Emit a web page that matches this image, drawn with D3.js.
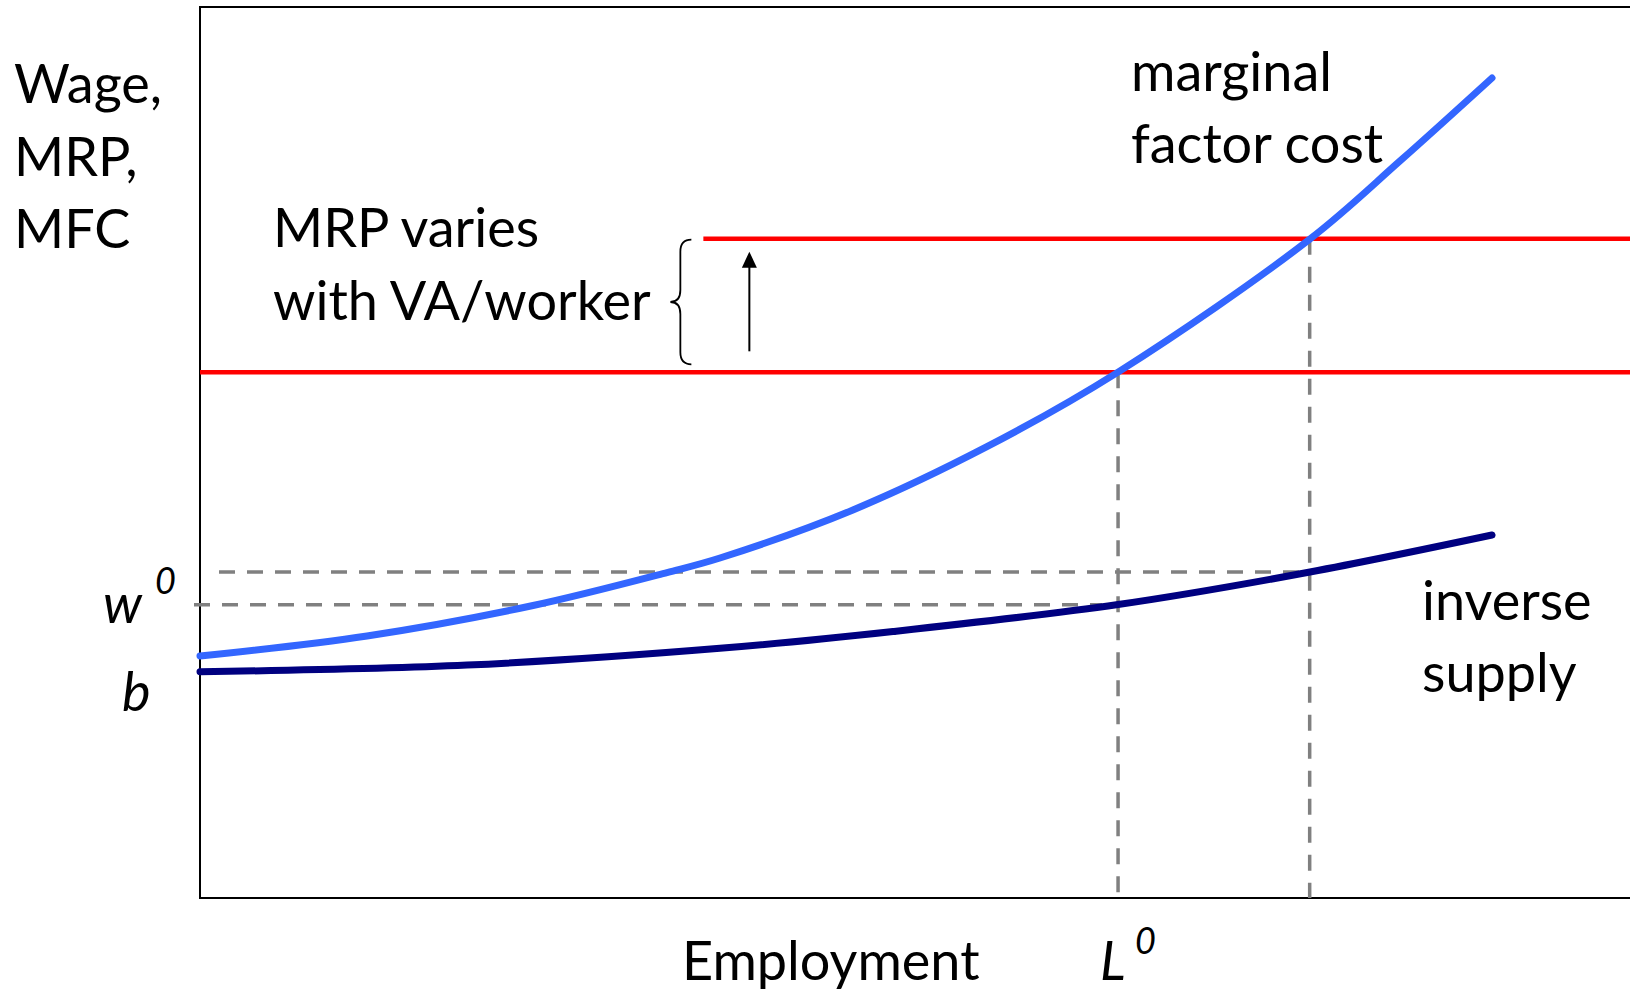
<!DOCTYPE html>
<html>
<head>
<meta charset="utf-8">
<script src="https://cdn.jsdelivr.net/npm/d3@7"></script>
<style>
  body { margin: 0; background: #fff; }
  text { font-family: Lato, "Open Sans", sans-serif; fill: #000; }
</style>
</head>
<body>
<div id="chart"></div>
<script>
// employment (x) and wage (y) values, in arbitrary units 0-10
var mfcX = [0, 1.168, 2.329, 3.266, 3.636, 4.566, 5.503, 6.420, 7.762, 8.392, 9.035]
var mfcY = [2.716, 2.941, 3.283, 3.653, 3.816, 4.355, 5.065, 5.902, 7.396, 8.272, 9.203]

var supplyX = [0, 1.867, 3.636, 4.846, 6.420, 7.762, 9.035]
var supplyY = [2.539, 2.614, 2.802, 2.991, 3.294, 3.659, 4.074]

// MRP levels (before / after), start of the shifted line
var mrpLevels = [5.90, 7.40]
var mrpShiftStart = 3.52

// equilibrium employment and wage levels
var empLevels = [6.42, 7.76]
var wageLevels = [3.29, 3.66]

var yLabel = ["Wage,", "MRP,", "MFC"]
var mrpNote = ["MRP varies", "with VA/worker"]
var mfcLabel = ["marginal", "factor cost"]
var supplyLabel = ["inverse", "supply"]

var W = 1630, H = 995

var svg = d3.select("#chart")
  .append("svg")
    .attr("width", W)
    .attr("height", H)

var x = d3.scaleLinear().domain([0, 10]).range([200, 1630])
var y = d3.scaleLinear().domain([0, 10]).range([898, 7])

// frame (no right edge visible)
svg.append("path")
  .attr("d", "M" + (x(10) + 10) + "," + y(10) + "H" + x(0) + "V" + y(0) + "H" + (x(10) + 10))
  .attr("fill", "none")
  .attr("stroke", "#000")
  .attr("stroke-width", 2)

// dashed guides
var dash = "16,12"
svg.append("line")
  .attr("x1", x(0) - 6).attr("x2", x(empLevels[0]) - 16)
  .attr("y1", y(wageLevels[0])).attr("y2", y(wageLevels[0]))
svg.append("line")
  .attr("x1", x(0) + 19).attr("x2", x(empLevels[1]) - 10)
  .attr("y1", y(wageLevels[1])).attr("y2", y(wageLevels[1]))
svg.append("line")
  .attr("x1", x(empLevels[0])).attr("x2", x(empLevels[0]))
  .attr("y1", y(mrpLevels[0])).attr("y2", y(0))
svg.append("line")
  .attr("x1", x(empLevels[1])).attr("x2", x(empLevels[1]))
  .attr("y1", y(mrpLevels[1])).attr("y2", y(0))
svg.selectAll("line")
  .attr("stroke", "#808080")
  .attr("stroke-width", 3.5)
  .attr("stroke-dasharray", dash)

// MRP lines
svg.append("line")
  .attr("x1", x(0)).attr("x2", x(10))
  .attr("y1", y(mrpLevels[0])).attr("y2", y(mrpLevels[0]))
  .attr("stroke", "#ff0000").attr("stroke-width", 4.5)
svg.append("line")
  .attr("x1", x(mrpShiftStart)).attr("x2", x(10))
  .attr("y1", y(mrpLevels[1])).attr("y2", y(mrpLevels[1]))
  .attr("stroke", "#ff0000").attr("stroke-width", 4.5)

// curves
var line = d3.line()
  .x(function(d) { return x(d[0]) })
  .y(function(d) { return y(d[1]) })
  .curve(d3.curveCatmullRom.alpha(0.5))

svg.append("path")
  .datum(supplyX.map(function(v, i) { return [v, supplyY[i]] }))
  .attr("d", line)
  .attr("fill", "none")
  .attr("stroke", "#000080")
  .attr("stroke-width", 7)
  .attr("stroke-linecap", "round")

svg.append("path")
  .datum(mfcX.map(function(v, i) { return [v, mfcY[i]] }))
  .attr("d", line)
  .attr("fill", "none")
  .attr("stroke", "#3366ff")
  .attr("stroke-width", 7)
  .attr("stroke-linecap", "round")

// brace and arrow
var bTop = y(mrpLevels[1]) + 1, bBot = y(mrpLevels[0]) - 8
var bMid = (bTop + bBot) / 2
var bx = x(mrpShiftStart) - 12
svg.append("path")
  .attr("d", "M" + bx + "," + bTop +
    "Q" + (bx - 11) + "," + bTop + " " + (bx - 11) + "," + (bTop + 12) +
    "L" + (bx - 11) + "," + (bMid - 12) +
    "Q" + (bx - 11) + "," + bMid + " " + (bx - 21) + "," + bMid +
    "Q" + (bx - 11) + "," + bMid + " " + (bx - 11) + "," + (bMid + 12) +
    "L" + (bx - 11) + "," + (bBot - 12) +
    "Q" + (bx - 11) + "," + bBot + " " + bx + "," + bBot)
  .attr("fill", "none")
  .attr("stroke", "#000")
  .attr("stroke-width", 1.8)

var ax = x(mrpShiftStart) + 46
var aTip = y(mrpLevels[1]) + 13
svg.append("line")
  .attr("x1", ax).attr("x2", ax)
  .attr("y1", y(mrpLevels[0]) - 21).attr("y2", aTip + 12)
  .attr("stroke", "#000").attr("stroke-width", 2)
svg.append("path")
  .attr("d", "M" + ax + "," + aTip + "L" + (ax - 7.5) + "," + (aTip + 16) + "L" + (ax + 7.5) + "," + (aTip + 16) + "Z")
  .attr("fill", "#000")

// text
var fs = 54
function block(lines, tx, ty, gap) {
  svg.append("g").selectAll("text")
    .data(lines)
    .enter()
    .append("text")
      .attr("x", tx)
      .attr("y", function(d, i) { return ty + i * gap })
      .style("font-size", fs + "px")
      .text(function(d) { return d })
}
block(yLabel, 14, 103, 72.5)
block(mrpNote, 273, 247, 73)
block(mfcLabel, 1131, 91, 72)
block(supplyLabel, 1422, 620, 72)

svg.append("text")
  .attr("x", 682).attr("y", 980)
  .style("font-size", fs + "px")
  .text("Employment")

function sup(base, tx, ty, sx, sy) {
  svg.append("text")
    .attr("x", tx).attr("y", ty)
    .style("font-size", fs + "px")
    .style("font-style", "italic")
    .text(base)
  if (sx != null) {
    svg.append("text")
      .attr("x", sx).attr("y", sy)
      .style("font-size", "36px")
      .style("font-style", "italic")
      .text("0")
  }
}
sup("L", x(empLevels[0]) - 18, 980, x(empLevels[0]) + 17, 954)
sup("w", 103, y(wageLevels[0]) + 18, 155, 594)
sup("b", 122, 711)
</script>
</body>
</html>
